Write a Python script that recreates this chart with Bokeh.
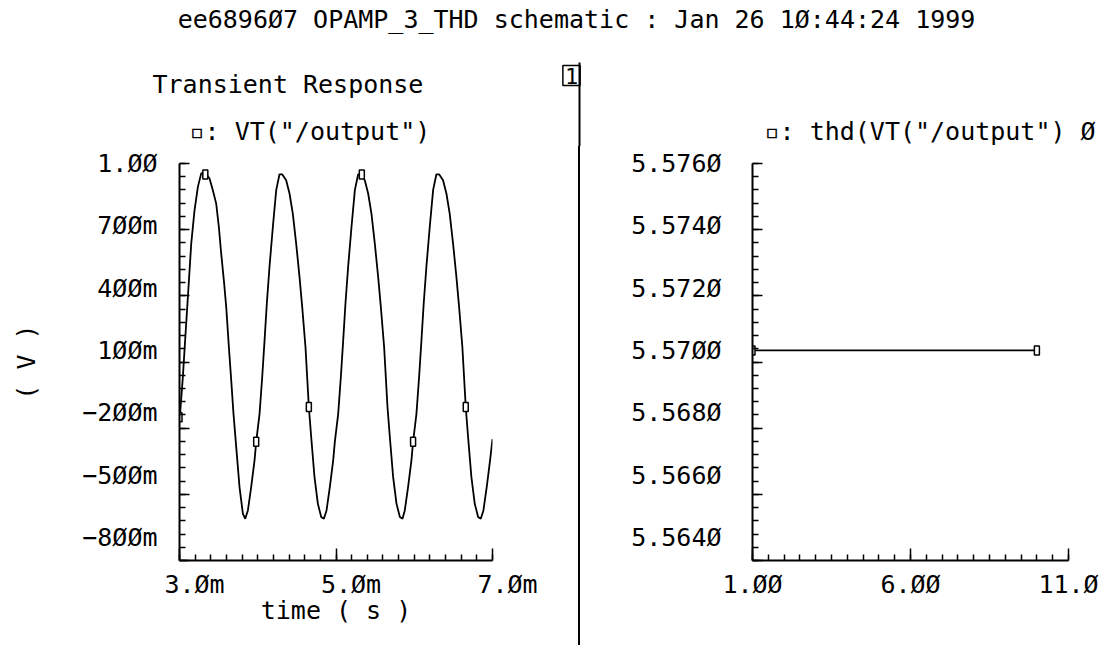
from bokeh.plotting import figure
from bokeh.models import (Label, FixedTicker, Range1d, Spacer, CustomJSTickFormatter,
                          LinearAxis)
from bokeh.layouts import column, row
from bokeh.embed import file_html
from bokeh.resources import INLINE

FONT = "DejaVu Sans Mono"
FS = "25px"

# ---------------- texts ----------------
title_text = "ee6896Ø7 OPAMP_3_THD schematic : Jan 26 1Ø:44:24 1999"
left_title = "Transient Response"
left_legend = '▫: VT("/output")'
right_legend = '▫: thd(VT("/output") Ø'
left_xlabel = "time ( s )"
left_ylabel = "( V )"
panel_tag = "1"

# ---------------- left panel data (time in ms, volts) ----------------
t_ms = [3.000, 3.043, 3.064, 3.107, 3.150, 3.192, 3.235, 3.277, 3.320, 3.384,
        3.426, 3.469, 3.503, 3.533, 3.567, 3.597, 3.631, 3.661, 3.690, 3.725,
        3.767, 3.810, 3.840,
        3.874, 3.916, 3.959, 3.980, 4.023, 4.057, 4.087, 4.116, 4.150, 4.193,
        4.236, 4.278, 4.312, 4.363, 4.406, 4.448, 4.491, 4.534, 4.568, 4.610,
        4.653, 4.683, 4.725, 4.768, 4.811, 4.845,
        4.879, 4.921, 4.964, 4.985, 5.028, 5.062, 5.092, 5.121, 5.155, 5.198,
        5.241, 5.283, 5.317, 5.368, 5.411, 5.453, 5.496, 5.539, 5.573, 5.615,
        5.658, 5.688, 5.730, 5.773, 5.816, 5.850,
        5.879, 5.921, 5.964, 5.985, 6.028, 6.062, 6.092, 6.121, 6.155, 6.198,
        6.241, 6.283, 6.317, 6.368, 6.411, 6.453, 6.496, 6.539, 6.573, 6.615,
        6.658, 6.688, 6.730, 6.773, 6.816, 6.850,
        6.884, 6.926, 6.969, 7.000]
v_out = [-0.170, 0.032, 0.153, 0.395, 0.637, 0.788, 0.894, 0.954, 0.962, 0.932,
         0.879, 0.818, 0.712, 0.591, 0.470, 0.350, 0.168, 0.017, -0.135, -0.286,
         -0.467, -0.588, -0.611,
         -0.573, -0.467, -0.346, -0.262, -0.135, 0.032, 0.198, 0.365, 0.531, 0.712,
         0.879, 0.951, 0.951, 0.924, 0.864, 0.773, 0.637, 0.485, 0.350, 0.168,
         -0.104, -0.240, -0.421, -0.542, -0.603, -0.611,
         -0.573, -0.467, -0.346, -0.262, -0.135, 0.032, 0.198, 0.365, 0.531, 0.712,
         0.879, 0.951, 0.951, 0.924, 0.864, 0.773, 0.637, 0.485, 0.350, 0.168,
         -0.104, -0.240, -0.421, -0.542, -0.603, -0.611,
         -0.573, -0.467, -0.346, -0.262, -0.135, 0.032, 0.198, 0.365, 0.531, 0.712,
         0.879, 0.951, 0.951, 0.924, 0.864, 0.773, 0.637, 0.485, 0.350, 0.168,
         -0.104, -0.240, -0.421, -0.542, -0.603, -0.611,
         -0.573, -0.467, -0.346, -0.250]
mark_t = [3.000, 3.330, 3.980, 4.653, 5.330, 5.985, 6.658]
mark_v = [-0.150, 0.950, -0.262, -0.104, 0.950, -0.262, -0.104]

left_xticks = [3.0, 5.0, 7.0]
left_xlabels = ["3.Øm", "5.Øm", "7.Øm"]
left_xminor_step = 0.2
left_yticks = [-0.8, -0.5, -0.2, 0.1, 0.4, 0.7, 1.0]
left_ylabels = ["−8ØØm", "−5ØØm", "−2ØØm", "1ØØm", "4ØØm", "7ØØm", "1.ØØ"]
left_yminor_step = 0.06

# ---------------- right panel data ----------------
thd_x = [1.0, 10.0]
thd_y = [5.57035, 5.57035]
right_xticks = [1.0, 6.0, 11.0]
right_xlabels = ["1.ØØ", "6.ØØ", "11.Ø"]
right_xminor_step = 0.5
right_yticks = [5.564, 5.566, 5.568, 5.570, 5.572, 5.574, 5.576]
right_ylabels = ["5.564Ø", "5.566Ø", "5.568Ø", "5.57ØØ", "5.572Ø", "5.574Ø", "5.576Ø"]
right_yminor_step = 0.0004

# layout constants (pixels)
HEAD_H = 146
ROW_H = 499
FRAME_H = 397          # plot frame height
LABEL_SPAN = 374       # vertical pixel span between first and last y tick label


def minor(ticks, step):
    n = int(round((ticks[-1] - ticks[0]) / step))
    return [ticks[0] + i * step for i in range(n + 1)]


def fmt(vals, labels, pad=""):
    return CustomJSTickFormatter(args=dict(vals=vals, labels=labels, pad=pad), code="""
        let best = 0, d = Infinity;
        for (let i = 0; i < vals.length; i++) {
            const e = Math.abs(vals[i] - tick);
            if (e < d) { d = e; best = i; }
        }
        return pad + labels[best];
    """)


BLANK = CustomJSTickFormatter(code="return '';")


def base_fig(w, h, xr, yr, bl, br, bt, bb):
    p = figure(width=w, height=h, x_range=xr, y_range=yr, output_backend="svg",
               toolbar_location=None, min_border_left=bl, min_border_right=br,
               min_border_top=bt, min_border_bottom=bb)
    p.xgrid.visible = False
    p.ygrid.visible = False
    p.outline_line_color = None
    p.background_fill_color = "white"
    p.border_fill_color = "white"
    return p


def style_axis(ax, major_in, minor_in, standoff):
    ax.axis_line_color = "black"
    ax.axis_line_width = 2
    ax.major_tick_in = major_in
    ax.major_tick_out = 0
    ax.minor_tick_in = minor_in
    ax.minor_tick_out = 0
    ax.major_tick_line_color = "black"
    ax.minor_tick_line_color = "black"
    ax.major_tick_line_width = 1.5
    ax.minor_tick_line_width = 1.5
    ax.major_label_text_font = FONT
    ax.major_label_text_font_size = FS
    ax.major_label_text_color = "black"
    ax.major_label_standoff = standoff
    ax.axis_label_text_font = FONT
    ax.axis_label_text_font_size = FS
    ax.axis_label_text_font_style = "normal"
    ax.axis_label_text_color = "black"


def y_label_axis(p, ticks, labels, standoff, axis_label=None):
    """Tick-label-only axis: Cadence spreads the y labels slightly tighter than the ticks."""
    lo = ticks[-1] - (ticks[-1] - ticks[0]) * FRAME_H / LABEL_SPAN
    p.extra_y_ranges = {"ylab": Range1d(lo, ticks[-1])}
    ax = LinearAxis(y_range_name="ylab", ticker=FixedTicker(ticks=ticks, minor_ticks=[]),
                    formatter=fmt(ticks, labels))
    style_axis(ax, 0, 0, standoff)
    ax.axis_line_color = None
    ax.major_tick_line_color = None
    ax.minor_tick_line_color = None
    if axis_label:
        ax.axis_label = axis_label
        ax.axis_label_standoff = 38
    p.add_layout(ax, "left")


def text_label(x, y, text, align="left", size=FS, **kw):
    return Label(x=x, y=y, text=text, text_font=FONT, text_font_size=size,
                 text_color="black", text_align=align, text_baseline="middle", **kw)


# ---------------- header (page pixels, y downward) ----------------
header = figure(width=1101, height=HEAD_H, x_range=Range1d(0, 1101),
                y_range=Range1d(HEAD_H, 0), output_backend="svg",
                toolbar_location=None, min_border=0)
header.axis.visible = False
header.grid.visible = False
header.outline_line_color = None
header.line([579, 579], [62, HEAD_H], line_color="black", line_width=2)
header.add_layout(text_label(576, 19, title_text, align="center"))
header.add_layout(text_label(152, 84, left_title))
header.add_layout(text_label(189, 131, left_legend))
header.add_layout(text_label(764, 131, right_legend))
header.add_layout(text_label(571, 75, panel_tag, align="center", size="22px",
                             border_line_color="black", border_line_width=1.5, padding=2))

# ---------------- left panel ----------------
pl = base_fig(578, ROW_H, Range1d(left_xticks[0], left_xticks[-1]),
              Range1d(left_yticks[0], left_yticks[-1]), 179, 86, 17, 85)
pl.line(t_ms, v_out, line_color="black", line_width=1.8)
pl.rect(mark_t, mark_v, width=5, height=9, width_units="screen", height_units="screen",
        fill_color="white", line_color="black", line_width=1.5)

pl.xaxis.ticker = FixedTicker(ticks=left_xticks, minor_ticks=minor(left_xticks, left_xminor_step))
pl.xaxis.formatter = fmt(left_xticks, left_xlabels, pad="\u00a0\u00a0")
style_axis(pl.xaxis[0], 12, 6, 9)
pl.xaxis.axis_label = left_xlabel
pl.xaxis.axis_label_standoff = -6

pl.yaxis.ticker = FixedTicker(ticks=left_yticks, minor_ticks=minor(left_yticks, left_yminor_step))
pl.yaxis.formatter = BLANK
style_axis(pl.yaxis[0], 10, 6, 0)
y_label_axis(pl, left_yticks, left_ylabels, 22, left_ylabel)

# ---------------- separator ----------------
sep = Spacer(width=2, height=ROW_H, styles={"background-color": "black"})

# ---------------- right panel ----------------
pr = base_fig(521, ROW_H, Range1d(right_xticks[0], right_xticks[-1]),
              Range1d(right_yticks[0], right_yticks[-1]), 172, 33, 17, 85)
pr.line(thd_x, thd_y, line_color="black", line_width=1.8)
pr.rect(thd_x, thd_y, width=5, height=9, width_units="screen", height_units="screen",
        fill_color="white", line_color="black", line_width=1.5)

pr.xaxis.ticker = FixedTicker(ticks=right_xticks, minor_ticks=minor(right_xticks, right_xminor_step))
pr.xaxis.formatter = fmt(right_xticks, right_xlabels)
style_axis(pr.xaxis[0], 12, 6, 9)

pr.yaxis.ticker = FixedTicker(ticks=right_yticks, minor_ticks=minor(right_yticks, right_yminor_step))
pr.yaxis.formatter = BLANK
style_axis(pr.yaxis[0], 10, 6, 0)
y_label_axis(pr, right_yticks, right_ylabels, 31)

layout = column(header, row(pl, sep, pr, spacing=0), spacing=0)

open("out.html", "w").write(file_html(layout, INLINE))
